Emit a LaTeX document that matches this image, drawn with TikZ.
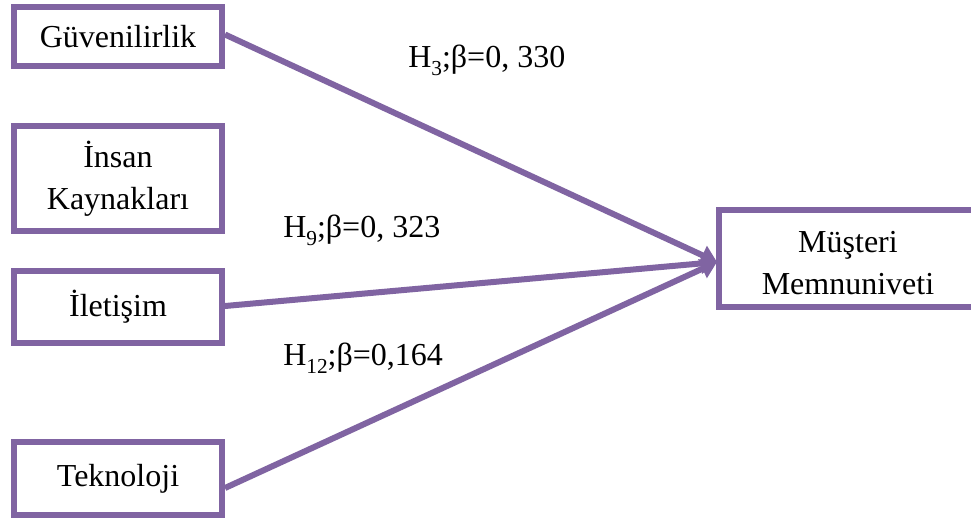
\documentclass[tikz,border=0pt]{standalone}
\usepackage{fontspec}
\setmainfont{Liberation Serif}
\usetikzlibrary{arrows.meta,calc}
\definecolor{boxpurple}{HTML}{8064A2}
\newcommand{\hsub}[1]{\raisebox{-0.26em}{\fontsize{16}{16}\selectfont #1}}
\begin{document}
\begin{tikzpicture}[x=0.75pt,y=-0.75pt,
  varbox/.style={draw=boxpurple,line width=4.5pt,inner sep=0pt,align=center,
    font=\fontsize{24}{31.5}\selectfont,minimum width=156pt},
  boxtext/.style={inner sep=0pt,align=center,font=\fontsize{24}{31.5}\selectfont},
  link/.style={draw=boxpurple,line width=4.5pt,-{Triangle[length=12pt,width=15pt]}},
  coef/.style={anchor=base west,inner sep=0pt,font=\fontsize{24}{28}\selectfont}]
\fill[white] (0,0) rectangle (971,519);
\useasboundingbox (0,0) rectangle (971,519);
\clip (0,0) rectangle (971,519);
\node[varbox,minimum height=44.25pt] (G) at (118,36.5) {Güvenilirlik};
\node[varbox,minimum height=78.75pt] (I) at (118,178.5) {İnsan\\Kaynakları};
\node[varbox,minimum height=54pt] (L) at (118,307) {İletişim};
\node[varbox,minimum height=54.75pt] (T) at (118,478.5) {Teknoloji};
\node[varbox,minimum height=72.75pt,minimum width=193.5pt] (M) at (848,258.5) {};
\node[boxtext] (Mt) at ($(M.center)+(0,4.5)$) {Müşteri\\Memnuniveti};
\coordinate (tip) at (717,262);
\draw[link] ($(G.east)+(0,-2)$) -- (tip);
\draw[link] ($(L.east)+(0,-1)$) -- (tip);
\draw[link] ($(T.east)+(0,9.5)$) -- (tip);
\node[coef] (h3) at (408,67) {H\hsub{3};β=0, 330};
\node[coef] (h9) at (283,237) {H\hsub{9};β=0, 323};
\node[coef] (h12) at (283,365) {H\hsub{12};β=0,164};
\end{tikzpicture}
\end{document}
